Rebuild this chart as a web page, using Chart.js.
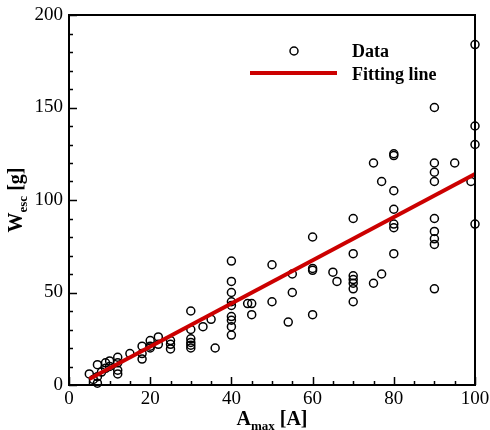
<!DOCTYPE html>
<html><head><meta charset="utf-8">
<script src="https://cdn.jsdelivr.net/npm/chart.js@4.4.1/dist/chart.umd.min.js"></script>
<style>html,body{margin:0;padding:0;background:#fff}#wrap{width:490px;height:430px}</style>
</head><body><div id="wrap"><canvas id="c" width="490" height="430"></canvas></div>
<script>
// Data points: A_max [A] vs W_esc [g]
const dataX = [5,6,7,7,7,8,9,9,10,10,12,12,12,12,15,18,18,18,20,20,20,22,22,25,25,25,
  30,30,30,30,30,30,33,35,36,40,40,40,40,40,40,40,40,40,44,45,45,50,50,54,55,55,
  60,60,60,60,65,66,70,70,70,70,70,70,70,75,75,77,77,80,80,80,80,80,80,80,
  90,90,90,90,90,90,90,90,90,95,99,100,100,100,100];
const dataY = [6,3,11,1,4.5,7,9,12,10,13,15,8,6,12,17,21,17,14,24,21,20,26,22,24,22,19.5,
  40,30,25,23,21.5,20,31.5,35.5,20,67,56,50,45,43,37,35,31.5,27,44,44,38,65,45,34,60,50,
  80,63,62,38,61,56,90,71,59,57,55,52,45,120,55,110,60,125,124,105,95,87,85,71,
  150,120,115,110,90,83,79,76,52,120,110,184,140,130,87];
const fitX = [5,100];
const fitY = [3.2,114];
const xTicks = [0,20,40,60,80,100];
const yTicks = [0,50,100,150,200];
const legendLabels = ['Data','Fitting line'];

const FONT = '"Liberation Serif","DejaVu Serif",serif';
const RED = '#cc0000';

function richText(ctx, parts, x, y, align){
  let w = 0;
  parts.forEach(p=>{ctx.font = p.font; p.w = ctx.measureText(p.t).width; w += p.w;});
  let cx = align==='center' ? x - w/2 : x;
  parts.forEach(p=>{ctx.font = p.font; ctx.fillText(p.t, cx, y + (p.dy||0)); cx += p.w;});
}

const decor = {
  id:'decor',
  afterDraw(chart){
    const {ctx, chartArea:a, scales:{x,y}} = chart;
    ctx.save();
    ctx.strokeStyle='#000'; ctx.lineWidth=2;
    ctx.strokeRect(a.left, a.top, a.right-a.left, a.bottom-a.top);
    ctx.lineWidth=1.5;
    ctx.beginPath();
    for(let v=0; v<=100; v+=5){
      const px = Math.round(x.getPixelForValue(v))+0.5;
      const L = v%20===0 ? 8 : 4;
      ctx.moveTo(px, a.bottom); ctx.lineTo(px, a.bottom-L);
    }
    for(let v=0; v<=200; v+=10){
      const py = Math.round(y.getPixelForValue(v))+0.5;
      const L = v%50===0 ? 8 : 4;
      ctx.moveTo(a.left, py); ctx.lineTo(a.left+L, py);
    }
    ctx.stroke();
    // axis titles
    ctx.fillStyle='#000'; ctx.textBaseline='alphabetic';
    richText(ctx, [
      {t:'A', font:'bold 20px '+FONT},
      {t:'max', font:'bold 13px '+FONT, dy:5},
      {t:' [A]', font:'bold 20px '+FONT}
    ], (a.left+a.right)/2, 425, 'center');
    ctx.save();
    ctx.translate(22, (a.top+a.bottom)/2);
    ctx.rotate(-Math.PI/2);
    richText(ctx, [
      {t:'W', font:'bold 20px '+FONT},
      {t:'esc', font:'bold 13px '+FONT, dy:5},
      {t:' [g]', font:'bold 20px '+FONT}
    ], 0, 0, 'center');
    ctx.restore();
    // legend
    ctx.font = 'bold 18px '+FONT;
    ctx.textAlign='left';
    ctx.fillText(legendLabels[0], 352, 57);
    ctx.fillText(legendLabels[1], 352, 80);
    ctx.lineWidth=1.5; ctx.strokeStyle='#000';
    ctx.beginPath(); ctx.arc(294, 51, 4, 0, Math.PI*2); ctx.stroke();
    ctx.strokeStyle=RED; ctx.lineWidth=4;
    ctx.beginPath(); ctx.moveTo(250, 73); ctx.lineTo(337, 73); ctx.stroke();
    ctx.restore();
  }
};

function noPad(s){ s.paddingLeft=0; s.paddingRight=0; s.paddingTop=0; s.paddingBottom=0; }

new Chart(document.getElementById('c'), {
  type:'scatter',
  data:{datasets:[
    {label:legendLabels[1], type:'line', data:fitX.map((v,i)=>({x:v,y:fitY[i]})),
     borderColor:RED, borderWidth:4, pointRadius:0, fill:false, order:1},
    {label:legendLabels[0], data:dataX.map((v,i)=>({x:v,y:dataY[i]})),
     pointRadius:4, pointBorderWidth:1.5, pointBorderColor:'#000',
     pointBackgroundColor:'rgba(0,0,0,0)', borderColor:'#000', backgroundColor:'rgba(0,0,0,0)', order:2}
  ]},
  options:{
    responsive:false, animation:false, clip:false,
    layout:{padding:{top:15,right:15,left:0,bottom:0}},
    plugins:{legend:{display:false}, tooltip:{enabled:false}},
    scales:{
      x:{type:'linear', min:0, max:100,
        afterBuildTicks(s){ s.ticks = xTicks.map(v=>({value:v})); },
        afterFit(s){ s.height = 45; noPad(s); },
        grid:{display:false, drawTicks:false}, border:{display:false},
        ticks:{padding:3, color:'#000', font:{family:FONT, size:19}, maxRotation:0}},
      y:{type:'linear', min:0, max:200,
        afterBuildTicks(s){ s.ticks = yTicks.map(v=>({value:v})); },
        afterFit(s){ s.width = 69; noPad(s); },
        grid:{display:false, drawTicks:false}, border:{display:false},
        ticks:{padding:6, color:'#000', font:{family:FONT, size:19}}}
    }
  },
  plugins:[decor]
});
</script></body></html>
